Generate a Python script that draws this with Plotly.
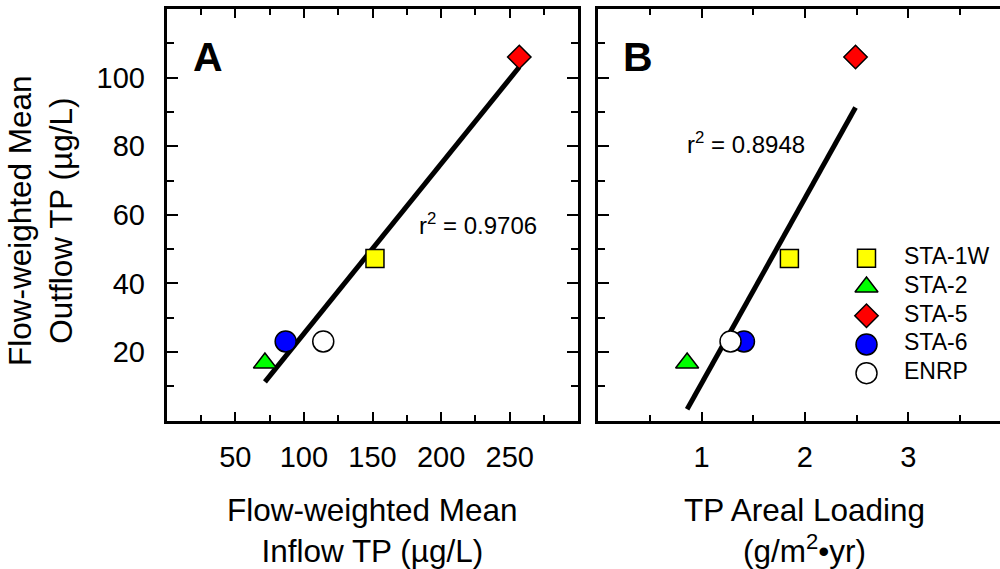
import plotly.graph_objects as go

# Station results
stations = ["STA-1W", "STA-2", "STA-5", "STA-6", "ENRP"]
inflow_tp = [151.8, 71.6, 257.0, 86.7, 114.1]        # flow-weighted mean inflow TP (µg/L)
areal_load = [1.85, 0.86, 2.49, 1.41, 1.28]          # TP areal loading (g/m²·yr)
outflow_tp = [47.3, 16.8, 106.0, 23.1, 23.1]         # flow-weighted mean outflow TP (µg/L)

# Linear fits (slope, intercept) and their r²
fit_a = (0.4949, -24.1)
fit_b = (53.96, -43.09)
r2_a = "0.9706"
r2_b = "0.8948"

# Axis ticks
x_ticks_a = [50, 100, 150, 200, 250]
x_ticks_b = [1, 2, 3]
y_ticks = [20, 40, 60, 80, 100]

symbols = ["square", "triangle-up", "diamond", "circle", "circle"]
sizes = [18, 20, 18, 21, 21]
colors = ["#FFFF00", "#00FF00", "#FF0000", "#0000FF", "#FFFFFF"]

FONT = "Liberation Sans, Arial, sans-serif"

fig = go.Figure()

# Regression lines spanning the observed x range
for xs, fit, xa, ya in [(inflow_tp, fit_a, "x", "y"), (areal_load, fit_b, "x2", "y2")]:
    x0, x1 = min(xs), max(xs)
    fig.add_trace(go.Scatter(
        x=[x0, x1], y=[fit[0] * x0 + fit[1], fit[0] * x1 + fit[1]],
        mode="lines", line=dict(color="black", width=5),
        xaxis=xa, yaxis=ya, hoverinfo="skip"))

# Station markers in both panels, plus a key drawn on its own small axis pair
KEY_SYMBOL_X, KEY_TEXT_X = 0.11, 0.36
for i, name in enumerate(stations):
    marker = dict(symbol=symbols[i], size=sizes[i], color=colors[i],
                  line=dict(color="black", width=1.5))
    fig.add_trace(go.Scatter(x=[inflow_tp[i]], y=[outflow_tp[i]], mode="markers",
                             marker=marker, name=name, xaxis="x", yaxis="y"))
    fig.add_trace(go.Scatter(x=[areal_load[i]], y=[outflow_tp[i]], mode="markers",
                             marker=marker, name=name, xaxis="x2", yaxis="y2"))
    fig.add_trace(go.Scatter(x=[KEY_SYMBOL_X], y=[name], mode="markers",
                             marker=marker, name=name, xaxis="x3", yaxis="y3",
                             hoverinfo="skip"))
    fig.add_trace(go.Scatter(x=[KEY_TEXT_X], y=[name], mode="text", text=[name],
                             textposition="middle right",
                             textfont=dict(family=FONT, size=23, color="black"),
                             xaxis="x3", yaxis="y3", hoverinfo="skip"))

W, H = 1000, 569
dom_y = [1 - 420.7 / H, 1 - 9 / H]
dom_xa = [166.7 / W, 578.3 / W]
dom_xb = [598.3 / W, 1.0]
px_per_unit_b = 103.3
range_xb = [0, (W - 598.3) / px_per_unit_b]

axis_common = dict(showline=True, linecolor="black", linewidth=3,
                   ticks="inside", tickcolor="black", tickwidth=2,
                   showgrid=False, zeroline=False,
                   tickfont=dict(family=FONT, size=29, color="black"))

hidden = dict(visible=False, showgrid=False, zeroline=False, fixedrange=True)

fig.update_layout(
    width=W, height=H, autosize=False,
    margin=dict(l=0, r=0, t=0, b=0),
    paper_bgcolor="white", plot_bgcolor="white",
    font=dict(family=FONT, color="black"),
    showlegend=False,
    xaxis=dict(domain=dom_xa, range=[0, 300], anchor="y", mirror="ticks",
               tickmode="array", tickvals=x_ticks_a, ticklen=9,
               ticklabelstandoff=8,
               minor=dict(dtick=25, ticks="inside", ticklen=6, tickwidth=2,
                          tickcolor="black", showgrid=False),
               **axis_common),
    yaxis=dict(domain=dom_y, range=[0, 120], anchor="x", mirror="ticks",
               tickmode="array", tickvals=y_ticks, ticklen=11,
               ticklabelstandoff=13,
               minor=dict(dtick=10, ticks="inside", ticklen=7, tickwidth=2,
                          tickcolor="black", showgrid=False),
               **axis_common),
    xaxis2=dict(domain=dom_xb, range=range_xb, anchor="y2", mirror="ticks",
                tickmode="array", tickvals=x_ticks_b, ticklen=9,
                ticklabelstandoff=8,
                minor=dict(dtick=0.5, ticks="inside", ticklen=6, tickwidth=2,
                           tickcolor="black", showgrid=False),
                **axis_common),
    yaxis2=dict(domain=dom_y, range=[0, 120], anchor="x2", mirror=False,
                tickmode="array", tickvals=y_ticks, ticklen=11,
                showticklabels=False,
                minor=dict(dtick=10, ticks="inside", ticklen=7, tickwidth=2,
                           tickcolor="black", showgrid=False),
                **axis_common),
    # key area inside panel B
    xaxis3=dict(domain=[850 / W, 1.0], range=[0, 1], anchor="y3", **hidden),
    yaxis3=dict(domain=[1 - 387.5 / H, 1 - 244 / H], anchor="x3", type="category",
                categoryorder="array", categoryarray=stations[::-1],
                range=[-0.5, len(stations) - 0.5], **hidden),
)

annotations = [
    dict(text="<b>A</b>", x=207.5 / W, y=1 - 57 / H, font=dict(size=41)),
    dict(text="<b>B</b>", x=638 / W, y=1 - 57 / H, font=dict(size=41)),
    dict(text="r<sup>2</sup> = " + r2_a, x=478 / W, y=1 - 224 / H, font=dict(size=24)),
    dict(text="r<sup>2</sup> = " + r2_b, x=746 / W, y=1 - 143 / H, font=dict(size=24)),
    dict(text="Flow-weighted Mean<br>Inflow TP (µg/L)", x=372.5 / W, y=1 - 530 / H,
         font=dict(size=31.5)),
    dict(text="TP Areal Loading<br>(g/m<sup>2</sup>•yr)", x=804 / W, y=1 - 530 / H,
         font=dict(size=31.5)),
    dict(text="Flow-weighted Mean<br>Outflow TP (µg/L)", x=41 / W, y=1 - 221 / H,
         textangle=-90, font=dict(size=31.5)),
]
for a in annotations:
    a.update(xref="paper", yref="paper", showarrow=False,
             xanchor="center", yanchor="middle")
    a["font"].update(family=FONT, color="black")
fig.update_layout(annotations=annotations)

fig.write_html("out.html")
